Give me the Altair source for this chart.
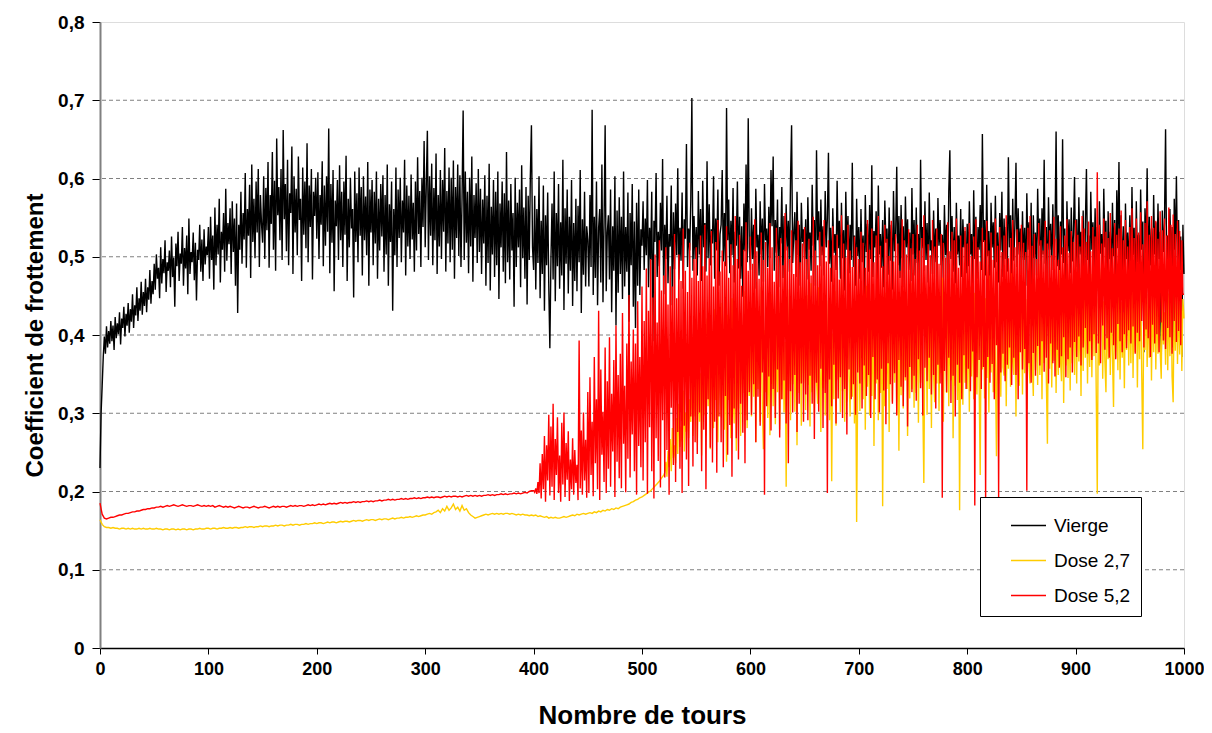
import altair as alt
import pandas as pd

# Nombre de tours for each series (noisy parts every tour, smooth parts every 2 tours)
tours_vierge = list(range(0, 1001))
tours_dose27 = list(range(0, 521, 2)) + list(range(521, 1001))
tours_dose52 = list(range(0, 400, 2)) + list(range(400, 1001))

# Coefficient de frottement x 1000
vierge = [
    230,300,335,372,398,376,411,384,405,389,418,392,412,381,423,396,415,401,429,388,
    421,409,436,398,427,412,441,403,433,417,452,409,438,425,461,418,447,431,468,426,
    455,437,472,429,461,445,483,440,469,452,
    491,458,503,472,486,447,512,466,497,479,521,455,493,482,508,461,526,474,499,436,
    517,488,532,469,504,491,538,463,511,485,527,452,549,478,506,493,531,470,518,444,
    509,496,541,481,522,469,535,490,513,502,
    538,472,551,496,527,458,563,489,541,503,574,467,532,509,556,481,587,495,543,516,
    562,478,571,506,549,463,568,428,541,509,583,491,556,522,607,486,561,527,592,473,
    618,519,574,498,596,531,612,487,579,542,
    518,603,497,588,534,621,486,579,542,634,509,597,482,651,553,589,521,612,496,662,
    548,593,507,624,489,581,556,641,478,603,531,587,502,628,547,574,469,614,528,596,
    511,645,493,591,538,612,471,583,552,601,
    523,608,497,579,541,622,488,591,514,603,532,664,479,593,518,611,456,572,539,598,
    496,617,521,583,487,596,528,629,469,574,512,601,536,561,448,609,519,581,493,614,
    527,589,476,603,521,577,502,621,463,586,
    531,598,489,583,517,609,472,574,508,593,526,604,481,579,503,618,463,567,519,596,
    431,561,502,614,487,586,524,601,493,572,531,624,476,591,513,578,497,605,522,569,
    481,596,508,627,529,584,487,601,538,648,
    512,592,661,496,603,527,619,489,588,521,632,478,579,513,611,497,598,532,639,481,
    584,517,614,493,601,509,623,472,589,524,618,501,604,487,576,687,496,609,518,583,
    479,601,513,628,468,579,524,594,492,612,
    506,587,478,573,517,604,463,578,492,619,457,564,503,598,474,583,489,609,446,568,
    512,596,481,581,466,634,493,572,471,593,508,556,436,601,487,569,512,586,461,617,
    498,563,472,589,439,578,496,603,668,512,
    483,578,458,561,492,603,447,546,478,591,431,553,489,582,462,383,497,568,471,609,
    443,556,488,593,459,544,476,624,432,562,491,586,453,551,482,598,437,543,469,574,
    456,565,493,611,428,548,477,583,462,539,
    521,462,579,487,688,451,551,473,596,438,537,561,467,618,442,544,668,456,531,553,
    471,586,429,539,482,603,412,559,454,576,478,551,446,609,462,538,481,582,417,556,
    489,593,436,545,409,569,463,586,451,535,
    514,571,483,549,502,598,461,537,496,583,392,546,519,607,474,532,488,569,508,625,
    452,541,497,578,466,529,513,591,438,557,484,568,502,613,471,537,495,582,459,548,
    523,644,487,536,508,571,703,482,552,497,
    538,476,584,503,561,469,597,512,543,481,622,498,567,489,535,517,603,472,549,508,
    586,463,529,541,611,494,556,488,690,521,573,479,546,502,588,467,532,514,596,485,
    551,472,539,449,568,507,618,493,677,512,
    483,562,497,541,459,587,512,528,476,571,503,549,468,593,521,536,487,564,498,611,
    539,628,482,547,505,573,461,538,517,589,473,552,496,567,508,546,481,598,668,492,
    529,557,474,583,502,541,463,569,519,535,
    497,548,471,576,509,531,482,592,514,547,463,636,521,558,488,573,502,539,476,584,
    512,549,633,491,537,468,562,505,529,483,597,511,546,472,569,498,534,457,583,509,
    552,479,541,496,620,487,527,463,574,501,
    538,472,561,493,527,448,579,506,542,481,566,497,617,474,533,512,558,469,591,503,
    529,486,547,461,572,518,536,477,563,495,541,458,584,507,528,615,489,552,473,566,
    498,539,461,577,512,548,483,531,469,588,
    503,547,476,563,492,529,457,624,511,538,482,571,496,543,467,582,508,521,478,559,
    493,536,462,575,514,547,489,528,473,566,502,541,458,583,636,497,552,481,538,466,
    569,503,527,489,561,474,548,512,533,479,
    542,488,571,503,529,462,585,497,551,472,538,509,566,483,657,519,547,476,592,501,
    533,458,569,512,544,486,578,493,531,467,556,508,583,474,549,497,538,481,627,512,
    553,469,574,495,541,620,487,562,503,536,
    478,558,496,537,463,581,509,544,487,569,412,553,498,531,476,587,514,549,468,562,
    503,624,491,538,457,576,509,542,483,567,496,529,660,488,553,471,545,503,650,492,
    536,418,571,507,548,479,563,494,529,602,
    487,548,461,576,503,532,478,559,397,541,612,496,527,468,583,509,544,482,562,491,
    538,456,571,504,529,473,587,512,546,389,558,497,532,478,569,501,547,463,585,511,
    621,488,553,472,539,406,568,497,531,482,
    553,476,589,502,537,448,571,493,528,467,586,509,545,378,562,498,613,474,551,489,
    536,457,579,503,544,482,568,497,532,362,559,506,543,663,487,527,472,561,495,538,
    384,574,509,603,491,547,468,526,372,541,
    478,
]

dose27 = [
    164,158,155,154,154,153,154,153,153,152,153,153,152,153,152,153,152,152,153,152,153,152,152,153,152,
    152,153,152,152,151,152,152,151,152,152,151,152,151,152,152,151,152,152,151,152,152,153,152,152,153,
    153,152,153,153,152,153,153,154,153,153,154,153,154,154,153,154,154,155,154,155,155,154,155,155,156,
    155,156,156,155,156,156,157,156,157,157,156,157,157,158,157,158,158,157,158,158,159,158,159,159,160,
    159,160,160,159,160,161,160,161,161,160,161,162,161,162,162,161,162,163,162,163,163,162,163,164,163,
    164,164,163,164,165,164,165,165,164,165,166,165,166,166,167,166,167,167,168,167,168,169,168,169,170,
    170,171,172,171,173,174,176,173,178,175,181,176,179,184,177,180,175,182,176,178,173,170,168,166,167,
    168,169,170,171,170,171,172,171,172,171,172,171,172,172,171,172,171,170,171,170,171,170,170,169,170,
    169,170,168,169,168,167,168,166,167,166,167,166,166,167,168,167,168,169,170,169,171,170,171,172,171,
    172,173,172,174,173,175,174,176,175,177,176,178,177,179,178,180,181,182,183,184,186,187,189,190,192,
    193,195,197,199,201,204,207,210,213,217,221,
    224,238,219,252,231,267,226,281,243,259,236,294,248,312,257,283,264,329,251,301,
    276,342,268,318,289,357,271,336,296,
    362,262,384,289,351,246,402,297,368,271,421,309,377,254,396,322,281,433,317,383,
    263,408,329,296,441,338,279,394,238,426,317,391,268,447,331,287,414,252,381,306,
    429,271,398,326,456,297,384,281,409,322,
    403,296,432,321,389,263,447,331,415,289,461,308,254,406,327,436,294,397,272,452,
    383,309,423,286,409,327,442,279,398,318,427,301,391,206,414,329,458,291,396,337,
    433,302,418,259,446,326,403,284,461,339,
    417,304,451,336,403,283,466,327,422,298,438,341,312,461,357,276,429,332,453,297,
    411,338,444,291,417,213,402,318,456,284,427,343,409,301,471,328,433,289,416,315,
    452,347,296,428,321,443,287,405,161,341,
    436,303,412,451,318,427,279,463,334,417,297,441,322,452,258,424,338,468,291,411,
    326,443,181,416,309,454,331,429,276,406,461,315,427,339,442,298,413,252,436,323,
    458,306,421,342,447,271,412,319,466,331,
    424,307,453,326,431,288,442,339,467,316,211,413,436,298,450,331,423,281,461,347,
    314,434,338,452,303,426,351,473,289,417,442,326,456,309,429,342,448,268,422,335,
    464,317,436,176,412,453,311,428,339,457,
    331,441,302,462,347,433,318,454,357,324,471,342,221,442,356,463,319,447,345,429,
    301,476,352,438,327,453,364,245,433,338,467,321,446,359,348,462,309,436,357,453,
    334,479,366,349,444,296,456,361,335,441,
    432,324,464,351,446,305,477,361,338,453,367,322,470,355,444,336,491,349,437,318,
    462,364,453,344,261,441,357,473,333,450,367,464,326,442,349,483,372,341,456,313,
    448,361,467,345,434,329,477,364,452,349,
    457,338,471,366,444,322,483,354,452,371,466,338,443,359,478,346,454,373,473,332,
    197,447,361,462,486,344,443,367,327,452,369,477,349,456,376,308,464,371,451,355,
    486,343,442,371,429,332,460,381,477,361,
    453,364,482,345,456,378,474,333,451,369,486,349,254,458,381,477,359,452,371,467,
    342,463,378,488,356,452,376,430,381,344,473,388,429,362,482,355,453,373,484,347,
    314,461,380,472,363,454,375,483,354,446,
    421,
]

dose52 = [
    185,171,166,165,166,167,167,168,169,170,170,171,172,172,173,174,174,175,175,176,177,177,178,178,179,
    179,180,180,181,180,181,182,181,182,183,182,181,182,183,182,181,182,182,181,182,183,182,181,182,181,
    182,181,182,180,181,182,181,180,181,180,181,180,179,180,181,180,179,180,180,179,180,181,180,179,180,
    180,181,180,179,180,181,180,181,180,181,181,180,181,182,181,182,181,182,182,181,182,183,182,183,182,
    183,184,183,184,183,184,185,184,185,184,185,186,185,186,185,186,186,187,186,187,186,187,187,188,187,
    188,187,188,188,189,188,189,189,190,189,190,189,190,190,191,190,191,190,191,191,192,191,192,191,192,
    192,193,192,193,192,193,193,192,193,194,193,194,193,194,194,193,194,193,194,195,194,195,194,195,194,
    195,194,195,195,196,195,196,195,196,196,197,196,197,196,197,197,198,197,198,197,198,199,198,200,201,
    201,199,204,197,212,198,236,191,248,203,271,187,259,214,298,195,283,206,312,189,
    267,221,295,198,246,187,288,209,301,193,262,215,277,188,241,203,268,196,253,211,
    234,189,393,204,278,196,301,214,266,192,
    327,198,346,221,289,194,372,236,318,203,431,189,356,247,302,212,384,198,341,229,
    397,206,325,251,368,193,412,238,349,217,376,204,428,261,335,199,389,242,451,218,
    366,273,407,226,389,196,443,258,372,231,
    462,214,418,263,485,197,431,282,497,226,448,191,503,268,416,239,521,205,457,291,
    476,218,512,253,439,196,488,307,462,234,529,212,447,276,503,229,469,198,536,284,
    482,241,455,207,518,296,473,232,497,263,
    512,248,469,301,527,226,488,279,541,203,476,318,498,256,533,237,462,289,519,224,
    547,296,481,263,508,231,494,322,539,247,473,285,516,219,489,306,552,268,497,241,
    528,312,463,275,509,236,544,291,482,327,
    526,298,491,337,548,263,507,321,472,284,531,352,496,196,519,309,486,347,543,278,
    512,331,468,294,537,356,501,269,524,318,489,342,556,287,513,236,497,328,534,301,
    478,349,521,276,546,312,493,338,517,289,
    538,324,497,291,523,348,476,312,551,267,508,339,489,302,532,357,513,281,547,326,
    494,198,521,343,486,309,539,362,502,287,528,319,471,346,553,294,517,331,499,273,
    541,356,508,318,487,337,526,298,512,352,
    497,338,532,306,518,361,486,322,547,349,509,294,536,372,493,318,527,343,552,301,
    514,357,488,329,541,286,523,364,501,337,546,312,494,351,529,297,517,368,482,334,
    548,309,521,346,503,283,535,359,511,327,
    529,348,497,316,541,369,508,332,524,297,553,358,489,341,516,371,502,324,547,349,
    513,306,536,362,491,338,529,192,518,354,499,327,544,371,507,313,532,348,521,296,
    549,362,486,339,527,318,512,374,538,331,
    517,357,543,328,501,379,526,182,548,346,512,368,494,331,537,359,521,190,546,372,
    508,339,531,363,496,318,549,387,514,191,538,352,506,376,527,341,553,362,498,384,
    524,336,547,371,512,349,535,318,519,378,
    541,356,518,382,506,201,537,364,552,339,514,377,529,348,497,386,543,361,521,392,
    508,353,546,371,517,338,534,389,502,364,551,347,523,381,496,358,539,373,512,397,
    527,346,548,369,505,384,533,352,519,391,
    547,372,528,398,513,361,552,384,536,409,519,376,545,392,507,368,538,401,526,377,
    608,389,541,364,517,412,549,381,532,396,524,371,556,403,511,387,543,369,528,414,
    536,392,559,378,521,401,547,383,513,406,
    538,389,562,411,524,376,549,403,531,392,557,418,516,384,543,407,571,396,528,372,
    552,413,537,389,546,401,523,378,558,416,534,393,549,382,527,409,563,397,541,376,
    554,418,529,391,546,405,533,387,521,452,
    452,
]

series_names = ["Vierge", "Dose 2,7", "Dose 5,2"]
series_colors = ["#000000", "#FFCC00", "#FF0000"]
x_ticks = [0, 100, 200, 300, 400, 500, 600, 700, 800, 900, 1000]
y_ticks = [0, 0.1, 0.2, 0.3, 0.4, 0.5, 0.6, 0.7, 0.8]
grid_values = [0.1, 0.2, 0.3, 0.4, 0.5, 0.6, 0.7]

series = [
    (series_names[0], tours_vierge, vierge),
    (series_names[1], tours_dose27, dose27),
    (series_names[2], tours_dose52, dose52),
]
for _, tt, vv in series:
    assert len(tt) == len(vv), (len(tt), len(vv))

FONT = "Liberation Sans"

color = alt.Color(
    "serie:N",
    scale=alt.Scale(domain=series_names, range=series_colors),
    legend=alt.Legend(
        title=None, orient="none", legendX=880, legendY=475,
        fillColor="white", strokeColor="black", padding=10, rowPadding=6,
        symbolType="stroke", symbolSize=1225, symbolStrokeWidth=1.5,
        symbolOffset=20, labelOffset=7, labelFont=FONT, labelFontSize=19,
        labelColor="black",
    ),
)

y_scale = alt.Scale(domain=[0, 0.8], nice=False)
y_axis = alt.Axis(
    values=y_ticks, title="Coefficient de frottement", grid=False,
    labelExpr="datum.value == 0 ? '0' : replace(format(datum.value, '.1f'), '.', ',')",
    labelFont=FONT, labelFontSize=19, labelFontWeight="bold", labelColor="black",
    titleFont=FONT, titleFontSize=24, titleFontWeight="bold", titleColor="black",
    domainColor="#808080", domainWidth=2, tickColor="black", tickSize=8,
    labelPadding=8, titlePadding=10,
)

x = alt.X(
    "t:Q",
    scale=alt.Scale(domain=[0, 1000], nice=False),
    axis=alt.Axis(
        values=x_ticks, format="d", title="Nombre de tours", grid=False,
        labelFont=FONT, labelFontSize=18, labelFontWeight="bold", labelColor="black",
        titleFont=FONT, titleFontSize=26, titleFontWeight="bold", titleColor="black",
        domainColor="black", domainWidth=1.5, tickColor="black", tickSize=6,
        labelPadding=6, titlePadding=24, labelFlush=False,
    ),
)
y = alt.Y("v:Q", scale=y_scale, axis=y_axis)

grid = alt.Chart(pd.DataFrame({"g": grid_values})).mark_rule(
    color="#808080", strokeWidth=1, strokeDash=[4, 3]
).encode(y=alt.Y("g:Q", scale=y_scale, axis=y_axis))

layers = [grid]
for name, tt, vv in series:
    df = pd.DataFrame({"t": tt, "v": [v / 1000 for v in vv], "serie": name})
    layers.append(
        alt.Chart(df).mark_line(strokeWidth=1.4).encode(x=x, y=y, color=color)
    )

chart = alt.layer(*layers).properties(
    width=1084, height=626,
    padding={"left": 92, "top": 14, "right": 20, "bottom": 84},
    autosize=alt.AutoSizeParams(type="none"),
).configure_view(stroke="#b0b0b0", strokeWidth=1).configure(background="white")

chart.save("out.html", embed_options={"renderer": "svg", "actions": False})
